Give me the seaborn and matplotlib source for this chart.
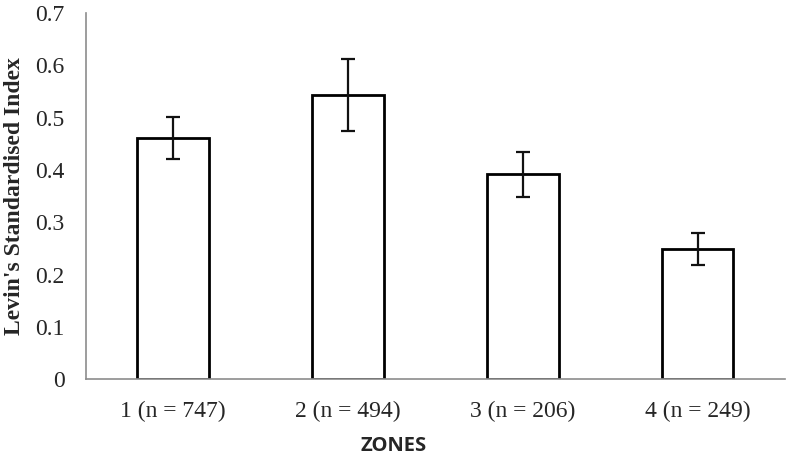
import numpy as np
import pandas as pd
import seaborn as sns
import matplotlib.pyplot as plt

zones = ['1 (n = 747)', '2 (n = 494)', '3 (n = 206)', '4 (n = 249)']
index_values = [0.461, 0.543, 0.392, 0.249]
errors = [0.041, 0.069, 0.043, 0.030]

df = pd.DataFrame({'zone': zones, 'index': index_values})

sns.set_style('white')
plt.rcParams['font.family'] = ['Liberation Serif', 'DejaVu Serif']

fig = plt.figure(figsize=(7.93, 4.68), dpi=100)
ax = fig.add_axes([0.108, 0.19, 0.882, 0.782])

sns.barplot(data=df, x='zone', y='index', color='white', edgecolor='black',
            linewidth=2, width=0.41, errorbar=None, ax=ax)
ax.errorbar(np.arange(len(zones)), index_values, yerr=errors, fmt='none',
            ecolor='#111111', elinewidth=1.6, capsize=5, capthick=1.6)

ax.set_xlim(-0.5, 3.5)
ax.set_ylim(0, 0.7)
ax.set_yticks(np.arange(0, 0.71, 0.1))
ax.set_yticklabels(['0', '0.1', '0.2', '0.3', '0.4', '0.5', '0.6', '0.7'])

# category boundaries as major ticks, labels on minor ticks
ax.set_xticks(np.arange(-0.5, 3.6, 1.0))
ax.set_xticklabels([])
ax.set_xticks(np.arange(len(zones)), minor=True)
ax.set_xticklabels(zones, minor=True)
ax.tick_params(axis='x', which='minor', length=0, pad=16, labelsize=17)
ax.tick_params(axis='x', which='major', direction='out', length=6,
               color='#8c8c8c', width=1.2)
ax.tick_params(axis='y', direction='out', length=6, color='#8c8c8c',
               width=1.2, labelsize=17, pad=9)

for side in ['top', 'right']:
    ax.spines[side].set_visible(False)
for side in ['left', 'bottom']:
    ax.spines[side].set_color('#8c8c8c')
    ax.spines[side].set_linewidth(1.2)

ax.set_ylabel("Levin's Standardised Index", fontsize=17, fontweight='bold')
ax.yaxis.set_label_coords(-0.086, 0.5)
ax.set_xlabel('ZONES', fontsize=14.5, fontweight='bold',
              family=['Open Sans', 'DejaVu Sans'])
ax.xaxis.set_label_coords(0.44, -0.155)

fig.savefig('out.png', dpi=100)
